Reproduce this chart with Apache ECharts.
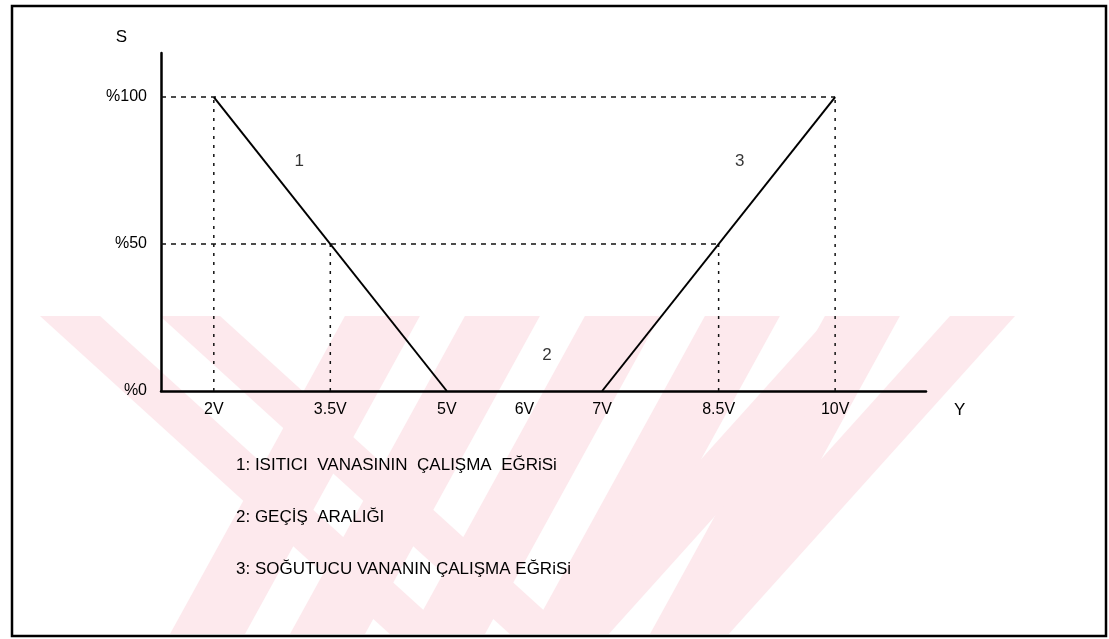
<!DOCTYPE html>
<html>
<head>
<meta charset="utf-8">
<script src="https://cdn.jsdelivr.net/npm/echarts@6/dist/echarts.min.js"></script>
<style>html,body{margin:0;padding:0;background:#fff}#c{width:1109px;height:639px}</style>
</head>
<body>
<div id="c"></div>
<script>
// ---- data ----
var xTicks = [2, 3.5, 5, 6, 7, 8.5, 10];          // volts
var yTicks = [0, 50, 100];                          // percent
var heaterCurve = [[2, 100], [5, 0]];               // 1: heating valve
var coolerCurve = [[7, 0], [10, 100]];              // 3: cooling valve
var hGuides = [[100, 10], [50, 8.5]];               // [percent, up to volts]
var vGuides = [[2, 100], [3.5, 50], [8.5, 50], [10, 100]]; // [volts, up to percent]
var curveTags = [[3.1, 78, '1'], [6.29, 12, '2'], [8.77, 78, '3']];
var legendLines = ['1: ISITICI  VANASININ  ÇALIŞMA  EĞRiSi', '2: GEÇİŞ  ARALIĞI', '3: SOĞUTUCU VANANIN ÇALIŞMA EĞRiSi'];
var xName = 'Y', yName = 'S';

var xMin = 1.32, xMax = 11.17, yMin = 0, yMax = 115;
var FONT = '"Liberation Sans", Arial, sans-serif';

var series = [];
hGuides.forEach(function (g) {
  series.push({type: 'line', data: [[xMin, g[0]], [g[1], g[0]]], symbol: 'none', silent: true,
    lineStyle: {color: '#111', width: 1.5, type: [5, 5]}});
});
vGuides.forEach(function (g) {
  series.push({type: 'line', data: [[g[0], 0], [g[0], g[1]]], symbol: 'none', silent: true,
    lineStyle: {color: '#111', width: 1.5, type: [3, 6]}});
});
series.push({type: 'line', data: heaterCurve, symbol: 'none', lineStyle: {color: '#000', width: 2}});
series.push({type: 'line', data: coolerCurve, symbol: 'none', lineStyle: {color: '#000', width: 2}});
series.push({type: 'scatter', symbolSize: 0, data: curveTags.map(function (t) { return {value: [t[0], t[1]], name: t[2]}; }),
  label: {show: true, formatter: '{b}', color: '#000', fontSize: 17, fontFamily: FONT, position: 'inside'}});

// watermark stripes (decoration)
var pink = '#fde9ed';
var wm = [];
var yT = 316, yB = 634;
function poly(pts) { wm.push({type: 'polygon', shape: {points: pts}, style: {fill: pink}, z: -10, silent: true}); }
[170, 290, 410, 530, 650].forEach(function (b) {
  var w = 75, s = 0.55 * (yB - yT);
  poly([[b, yB], [b + w, yB], [b + w + s, yT], [b + s, yT]]);
});
[40, 160].forEach(function (t) {
  var w = 60, s = 1.1 * (yB - yT);
  poly([[t, yT], [t + w, yT], [t + w + s, yB], [t + s, yB]]);
});
[830, 950].forEach(function (t) {
  var w = 65, s = -0.9 * (yB - yT);
  poly([[t, yT], [t + w, yT], [t + w + s, yB], [t + s, yB]]);
});

var graphics = wm.concat([
  {type: 'rect', shape: {x: 12, y: 6, width: 1094, height: 630}, style: {fill: null, stroke: '#000', lineWidth: 2.5}, z: 10, silent: true}
]);
legendLines.forEach(function (t, i) {
  graphics.push({type: 'text', left: 236, top: 457 + i * 52, z: 10,
    style: {text: t, fill: '#000', font: '17px ' + FONT}});
});

var chart = echarts.init(document.getElementById('c'));
chart.setOption({
  animation: false,
  backgroundColor: '#fff',
  grid: {left: 161, right: 1109 - 926, top: 53, bottom: 639 - 391, containLabel: false},
  xAxis: {type: 'value', min: xMin, max: xMax, name: xName, nameLocation: 'end', nameGap: 28,
    nameTextStyle: {color: '#000', fontSize: 17, fontFamily: FONT, verticalAlign: 'top', padding: [11, 0, 0, 0]},
    axisLine: {show: true, onZero: false, lineStyle: {color: '#000', width: 2.5}},
    axisTick: {show: false}, splitLine: {show: false},
    axisLabel: {customValues: xTicks, color: '#000', fontSize: 16, fontFamily: FONT, margin: 11,
      formatter: function (v) { return v + 'V'; }}},
  yAxis: {type: 'value', min: yMin, max: yMax, name: yName, nameLocation: 'end', nameGap: 7,
    nameTextStyle: {color: '#000', fontSize: 17, fontFamily: FONT, align: 'right', padding: [0, 34, 0, 0]},
    axisLine: {show: true, onZero: false, lineStyle: {color: '#000', width: 2.5}},
    axisTick: {show: false}, splitLine: {show: false},
    axisLabel: {customValues: yTicks, color: '#000', fontSize: 16, fontFamily: FONT, margin: 14,
      formatter: function (v) { return '%' + v; }}},
  series: series,
  graphic: graphics
});
</script>
</body>
</html>
